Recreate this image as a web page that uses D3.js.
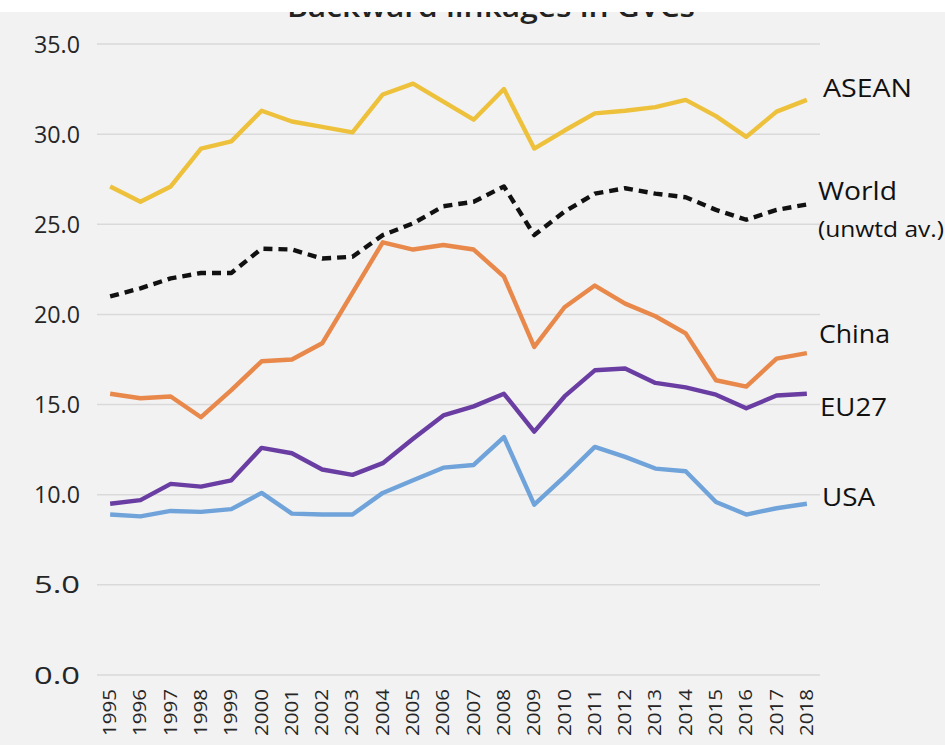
<!DOCTYPE html>
<html><head><meta charset="utf-8">
<script src="https://cdn.jsdelivr.net/npm/d3@7/dist/d3.min.js"></script>
<style>body{margin:0;background:#fff}svg{display:block}</style>
</head><body>
<svg id="c" width="945" height="745"></svg>
<script>
const years = ["1995","1996","1997","1998","1999","2000","2001","2002","2003","2004","2005","2006","2007","2008","2009","2010","2011","2012","2013","2014","2015","2016","2017","2018"];
const asean = [27.1,26.25,27.1,29.2,29.6,31.3,30.7,30.4,30.1,32.2,32.8,31.8,30.8,32.5,29.2,30.2,31.15,31.3,31.5,31.9,31.0,29.85,31.25,31.9];
const world = [21.0,21.45,22.0,22.3,22.3,23.65,23.6,23.1,23.2,24.4,25.05,26.0,26.25,27.1,24.4,25.7,26.7,27.0,26.7,26.5,25.8,25.25,25.8,26.1];
const china = [15.6,15.35,15.45,14.3,15.8,17.4,17.5,18.4,21.2,24.0,23.6,23.85,23.6,22.1,18.2,20.4,21.6,20.6,19.9,18.95,16.35,16.0,17.55,17.85];
const eu27  = [9.5,9.7,10.6,10.45,10.8,12.6,12.3,11.4,11.1,11.75,13.1,14.4,14.9,15.6,13.5,15.45,16.9,17.0,16.2,15.95,15.55,14.8,15.5,15.6];
const usa   = [8.9,8.8,9.1,9.05,9.2,10.1,8.95,8.9,8.9,10.1,10.8,11.5,11.65,13.2,9.45,11.0,12.65,12.1,11.45,11.3,9.6,8.9,9.25,9.5];
const yTicks = [0,5,10,15,20,25,30,35];
const title = "Backward linkages in GVCs";

const series = [
  {name:"ASEAN", values:asean, color:"#EEC13C", dash:null,
   labels:[{t:"ASEAN", x:823, y:88, fs:26, len:89}]},
  {name:"World", values:world, color:"#111111", dash:"9,6",
   labels:[{t:"World", x:818, y:191, fs:26, len:79},{t:"(unwtd av.)", x:818, y:229, fs:21, len:126}]},
  {name:"China", values:china, color:"#E8884A", dash:null,
   labels:[{t:"China", x:819, y:334, fs:26, len:71}]},
  {name:"EU27", values:eu27, color:"#6A3DA3", dash:null,
   labels:[{t:"EU27", x:820, y:407, fs:26, len:67}]},
  {name:"USA", values:usa, color:"#6FA3DA", dash:null,
   labels:[{t:"USA", x:822, y:497, fs:26, len:53}]}
];

const svg = d3.select("#c");
svg.append("rect").attr("x",0).attr("y",0).attr("width",945).attr("height",745).attr("fill","#f2f2f2");

const x = d3.scalePoint().domain(years).range([95,822]).padding(0.5);
const y = d3.scaleLinear().domain([0,35]).range([675,44]);
const gL = 97, gR = 820;
const font = "'Open Sans', Lato, sans-serif";

// gridlines
svg.append("g").selectAll("line").data(yTicks).join("line")
  .attr("x1",gL).attr("x2",gR).attr("y1",d=>y(d)).attr("y2",d=>y(d))
  .attr("stroke","#d9d9d9").attr("stroke-width",1.5);

// y labels
svg.append("g").selectAll("text").data(yTicks).join("text")
  .attr("x",80).attr("y",d=>y(d)).attr("dy","0.36em")
  .attr("text-anchor","end").attr("font-family",font).attr("font-weight",500)
  .attr("font-size",24).attr("fill","#262626")
  .attr("textLength",46).attr("lengthAdjust","spacingAndGlyphs")
  .text(d=>d.toFixed(1));

// x labels
svg.append("g").selectAll("text").data(years).join("text")
  .attr("transform",d=>`translate(${x(d)+6},689) rotate(-90)`)
  .attr("text-anchor","end").attr("font-family",font).attr("font-weight",500)
  .attr("font-size",18).attr("fill","#262626")
  .attr("textLength",47).attr("lengthAdjust","spacingAndGlyphs")
  .text(d=>d);

const line = d3.line().x((d,i)=>x(years[i])).y(d=>y(d));
svg.append("g").selectAll("path").data(series).join("path")
  .attr("d",d=>line(d.values)).attr("fill","none")
  .attr("stroke",d=>d.color).attr("stroke-width",4.4)
  .attr("stroke-dasharray",d=>d.dash).attr("stroke-linejoin","round");

// series labels
series.forEach(s=>{
  s.labels.forEach(l=>{
    svg.append("text").attr("x",l.x).attr("y",l.y).attr("dy","0.36em")
      .attr("font-family",font).attr("font-weight",500).attr("font-size",l.fs).attr("fill","#111")
      .attr("textLength",l.len).attr("lengthAdjust","spacingAndGlyphs").text(l.t);
  });
});

// title (top clipped as in the reference)
svg.append("text").attr("x",491).attr("y",17).attr("text-anchor","middle")
  .attr("font-family",font).attr("font-weight",600)
  .attr("font-size",28).attr("fill","#222")
  .attr("textLength",408).attr("lengthAdjust","spacingAndGlyphs").text(title);
svg.append("rect").attr("x",0).attr("y",0).attr("width",945).attr("height",12).attr("fill","#fff");
</script>
</body></html>
